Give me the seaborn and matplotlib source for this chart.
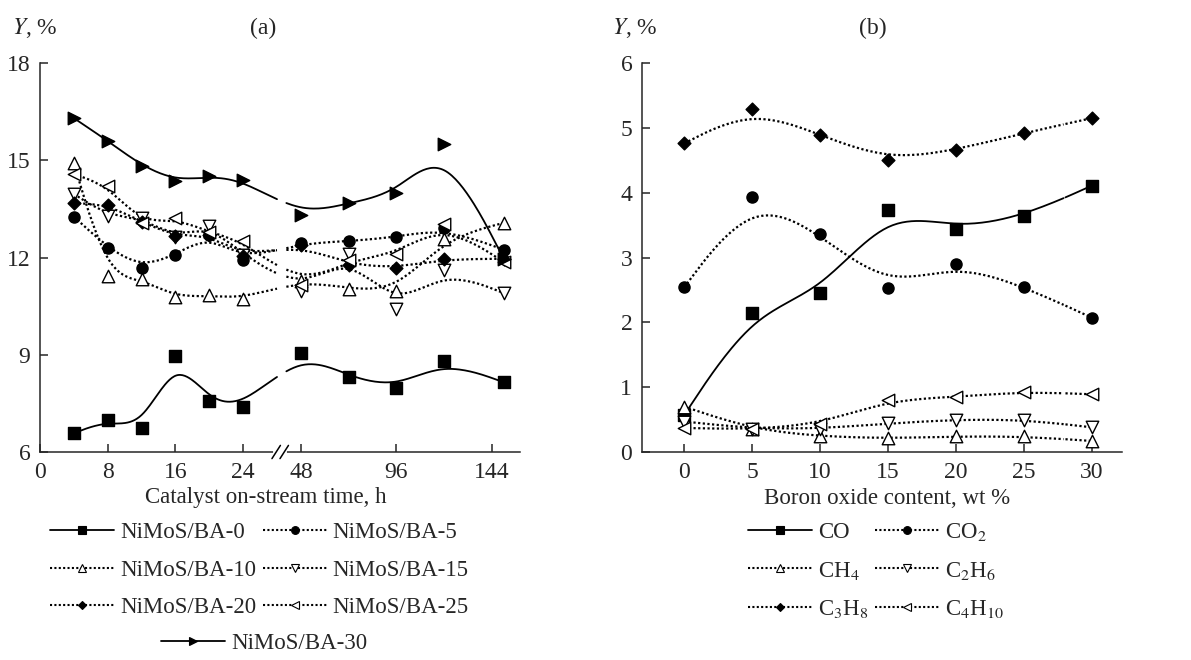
import numpy as np
import pandas as pd
import matplotlib
matplotlib.use('Agg')
import matplotlib.pyplot as plt
from matplotlib.lines import Line2D
import seaborn as sns

sns.set_style('ticks')
plt.rcParams['font.family'] = ['Liberation Serif', 'DejaVu Serif']
plt.rcParams['mathtext.fontset'] = 'stix'

# (a) yield vs catalyst on-stream time ----
hours = [4, 8, 12, 16, 20, 24, 48, 72, 96, 120, 150]
time_ticks = [0, 8, 16, 24, 48, 96, 144]
ba0 = [6.58, 6.98, 6.73, 8.95, 7.58, 7.40, 9.06, 8.32, 7.98, 8.81, 8.15]
ba5 = [13.26, 12.30, 11.69, 12.09, 12.68, 11.93, 12.44, 12.50, 12.63, 12.90, 12.24]
ba10 = [14.90, 11.42, 11.34, 10.78, 10.83, 10.73, 11.29, 11.04, 10.98, 12.58, 13.07]
ba15 = [13.96, 13.29, 13.22, 12.62, 12.98, 12.09, 10.98, 12.11, 10.42, 11.62, 10.90]
ba20 = [13.68, 13.63, 13.10, 12.65, 12.70, 12.05, 12.38, 11.78, 11.68, 11.95, 11.96]
ba25 = [14.57, 14.22, 13.05, 13.21, 12.78, 12.50, 11.15, 11.91, 12.11, 13.04, 11.86]
ba30 = [16.30, 15.60, 14.83, 14.37, 14.50, 14.39, 13.32, 13.68, 13.98, 15.50, 11.95]

# (b) yield vs boron oxide content ----
boron = [0, 5, 10, 15, 20, 25, 30]
co = [0.57, 2.15, 2.45, 3.73, 3.44, 3.64, 4.11]
co2 = [2.54, 3.93, 3.36, 2.53, 2.90, 2.55, 2.07]
ch4 = [0.70, 0.35, 0.24, 0.21, 0.24, 0.24, 0.17]
c2h6 = [0.47, 0.36, 0.36, 0.44, 0.50, 0.50, 0.38]
c3h8 = [4.76, 5.29, 4.89, 4.50, 4.66, 4.92, 5.15]
c4h10 = [0.37, 0.35, 0.43, 0.80, 0.85, 0.93, 0.89]

DOT = (0, (1, 1.1))
MS = {'s': 8, 'o': 8, '^': 9, 'v': 9, 'D': 6.5, '<': 9, '>': 9}

# axis break on the time axis: 28..40 h is cut out, second part compressed
BREAK_LO, BREAK_HI, GAP, K2 = 28, 40, 0.95, 0.235


def time_pos(t):
    t = np.asarray(t, float)
    return np.where(t <= BREAK_LO, t, BREAK_LO + GAP + (t - BREAK_HI) * K2)


def bspline(x, y, n=30):
    # uniform cubic B-spline, data points used as control points, clamped ends
    px = np.r_[[x[0]] * 2, x, [x[-1]] * 2].astype(float)
    py = np.r_[[y[0]] * 2, y, [y[-1]] * 2].astype(float)
    u = np.linspace(0, 1, n)[:, None]
    b = np.hstack([(1 - u) ** 3, 3 * u ** 3 - 6 * u ** 2 + 4,
                   -3 * u ** 3 + 3 * u ** 2 + 3 * u + 1, u ** 3]) / 6
    xs = np.concatenate([b @ px[i:i + 4] for i in range(len(px) - 3)])
    ys = np.concatenate([b @ py[i:i + 4] for i in range(len(py) - 3)])
    return xs, ys


def draw_series(ax, x, y, marker, face, ls, broken=False):
    xs, ys = bspline(x, y)
    curve = pd.DataFrame({'x': xs, 'y': ys, 'seg': (xs > BREAK_LO).astype(int)})
    if broken:
        curve = curve[(curve.x <= BREAK_LO) | (curve.x >= BREAK_LO + GAP)]
    sns.lineplot(data=curve, x='x', y='y', units='seg', estimator=None, sort=False,
                 ax=ax, color='black', lw=1.3 if ls == '-' else 1.6, linestyle=ls)
    sns.scatterplot(x=x, y=y, ax=ax, marker=marker, s=MS[marker] ** 2, color=face,
                    edgecolor='black', linewidth=1, zorder=3)


def legend_handle(marker, face, ls):
    return Line2D([], [], color='black', linestyle=ls, lw=1.3 if ls == '-' else 1.5,
                  marker=marker, markersize=MS[marker] * 0.7, markerfacecolor=face,
                  markeredgecolor='black', markeredgewidth=0.8)


def style_axes(ax):
    sns.despine(ax=ax)
    for s in ['left', 'bottom']:
        ax.spines[s].set_linewidth(1.1)
    ax.tick_params(direction='in', length=6, width=1.1, labelsize=17, pad=7)
    ax.set_xlabel('')
    ax.set_ylabel('')


fig = plt.figure(figsize=(11.91, 6.6), dpi=100)
W, H = 1191, 660
ax_a = fig.add_axes([40 / W, 1 - 452 / H, 480 / W, 389 / H])
ax_b = fig.add_axes([642 / W, 1 - 452 / H, 480 / W, 389 / H])

a_series = [('NiMoS/BA-0', ba0, 's', 'black', '-'),
            ('NiMoS/BA-5', ba5, 'o', 'black', DOT),
            ('NiMoS/BA-10', ba10, '^', 'white', DOT),
            ('NiMoS/BA-15', ba15, 'v', 'white', DOT),
            ('NiMoS/BA-20', ba20, 'D', 'black', DOT),
            ('NiMoS/BA-25', ba25, '<', 'white', DOT),
            ('NiMoS/BA-30', ba30, '>', 'black', '-')]
for name, vals, m, face, ls in a_series:
    draw_series(ax_a, time_pos(hours), vals, m, face, ls, broken=True)

ax_a.set_xlim(0, 56.7)
ax_a.set_ylim(6, 18)
ax_a.set_xticks(time_pos(time_ticks))
ax_a.set_xticklabels([str(t) for t in time_ticks])
ax_a.set_yticks([6, 9, 12, 15, 18])
style_axes(ax_a)

# break marks on the time axis
tr = ax_a.get_xaxis_transform()
ax_a.plot([27.75, 28.95], [0, 0], transform=tr, color='white', lw=3, clip_on=False, zorder=5)
for cx in [27.9, 28.85]:
    ax_a.plot([cx - 0.5, cx + 0.5], [-0.017, 0.017], transform=tr, color='black',
              lw=1.1, clip_on=False, zorder=6)

b_series = [('CO', co, 's', 'black', '-'),
            ('CO$_2$', co2, 'o', 'black', DOT),
            ('CH$_4$', ch4, '^', 'white', DOT),
            ('C$_2$H$_6$', c2h6, 'v', 'white', DOT),
            ('C$_3$H$_8$', c3h8, 'D', 'black', DOT),
            ('C$_4$H$_{10}$', c4h10, '<', 'white', DOT)]
for name, vals, m, face, ls in b_series:
    draw_series(ax_b, boron, vals, m, face, ls)

ax_b.set_xlim(-3.1, 32.2)
ax_b.set_ylim(0, 6)
ax_b.set_xticks(boron)
ax_b.set_yticks(range(0, 7))
style_axes(ax_b)

# titles and axis labels
fig.text(12 / W, 1 - 28 / H, '$Y$, %', fontsize=17, va='center', ha='left')
fig.text(612 / W, 1 - 28 / H, '$Y$, %', fontsize=17, va='center', ha='left')
fig.text(263 / W, 1 - 28 / H, '(a)', fontsize=17, va='center', ha='center')
fig.text(873 / W, 1 - 28 / H, '(b)', fontsize=17, va='center', ha='center')
fig.text(266 / W, 1 - 498 / H, 'Catalyst on-stream time, h', fontsize=16.5, va='center', ha='center')
fig.text(887 / W, 1 - 498 / H, 'Boron oxide content, wt %', fontsize=16.5, va='center', ha='center')

# legends, two columns filled row by row
order = [0, 2, 4, 1, 3, 5]
leg_kw = dict(frameon=False, fontsize=16.5, handlelength=2.8, handletextpad=0.25,
              columnspacing=0.3, labelspacing=0.72, borderaxespad=0, borderpad=0)
h_a = [legend_handle(m, f, ls) for _, _, m, f, ls in a_series]
lab_a = [s[0] for s in a_series]
fig.legend([h_a[i] for i in order], [lab_a[i] for i in order], ncol=2, loc='upper left',
           bbox_to_anchor=(50 / W, 1 - 522 / H), **leg_kw)
fig.legend(h_a[6:], lab_a[6:], ncol=1, loc='upper center',
           bbox_to_anchor=(264 / W, 1 - 633 / H), **leg_kw)
h_b = [legend_handle(m, f, ls) for _, _, m, f, ls in b_series]
lab_b = [s[0] for s in b_series]
fig.legend([h_b[i] for i in order], [lab_b[i] for i in order], ncol=2, loc='upper left',
           bbox_to_anchor=(748 / W, 1 - 521 / H), **leg_kw)

fig.savefig('out.png', dpi=100)
